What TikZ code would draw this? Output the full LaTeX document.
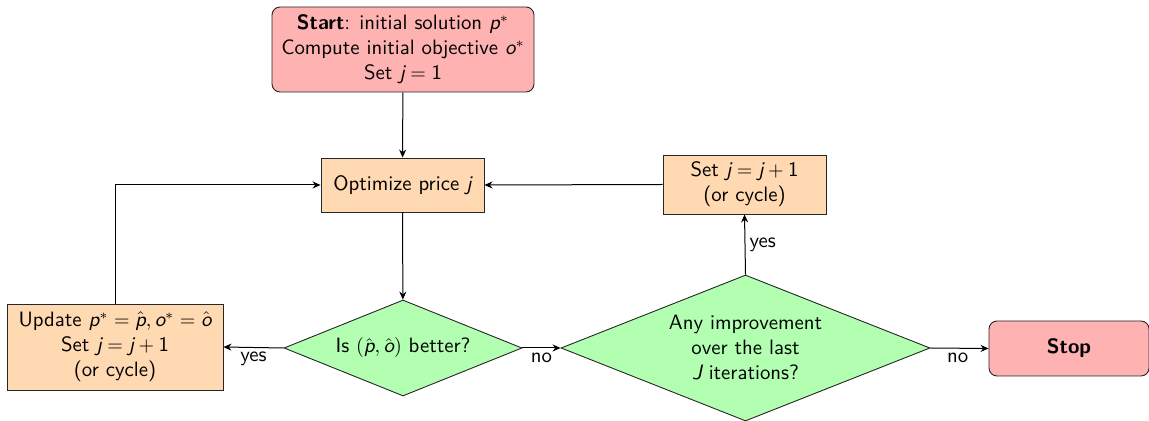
\documentclass[tikz,border=0pt]{standalone}
\renewcommand{\familydefault}{\sfdefault}
\usetikzlibrary{shapes.geometric,arrows.meta}

% sans-serif italic variables and sans digits inside formulas
\newcommand{\vi}[1]{\textsf{\itshape #1}}
\newcommand{\nm}[1]{\textsf{#1}}

\tikzset{
  txt/.style={font=\fontsize{10.4}{12.5}\selectfont},
  base/.style={draw=black!85, line width=0.45pt, align=center, inner sep=2pt, txt},
  terminal/.style={base, rounded corners=4pt, fill=red!30},
  process/.style={base, fill=orange!30},
  decision/.style={base, diamond, fill=green!30, inner sep=0pt},
  flow/.style={draw=black, line width=0.5pt, -{Stealth[length=4pt,width=3.5pt]}},
  lbl/.style={txt, inner sep=2pt}
}

\begin{document}
\begin{tikzpicture}[x=0.5pt,y=-0.5pt]
  \useasboundingbox (0,0) rectangle (1149,421);

  % nodes
  \node[terminal, minimum width=131pt, minimum height=42.5pt] (start) at (403,49.5)
    {\textbf{Start}: initial solution $\vi{p}^*$\\Compute initial objective $\vi{o}^*$\\Set $\vi{j}=\nm{1}$};
  \node[process, minimum width=81.5pt, minimum height=27pt] (opt) at (402.5,185)
    {Optimize price $\vi{j}$};
  \node[process, minimum width=81.5pt, minimum height=29.5pt] (setj) at (744.5,184.5)
    {Set $\vi{j}=\vi{j}+\nm{1}$\\(or cycle)};
  \node[process, minimum width=108pt, minimum height=43pt] (upd) at (115,347)
    {Update $\vi{p}^*=\hat{\vi{p}}, \vi{o}^*=\hat{\vi{o}}$\\Set $\vi{j}=\vi{j}+\nm{1}$\\(or cycle)};
  \node[decision, minimum width=119pt, minimum height=48pt, aspect=2.48] (better) at (403,348)
    {Is $(\hat{\vi{p}},\hat{\vi{o}})$ better?};
  \node[decision, minimum width=184.5pt, minimum height=73pt, aspect=2.53] (improve) at (745.5,348)
    {Any improvement\\over the last\\$\vi{J}$ iterations?};
  \node[terminal, minimum width=80pt, minimum height=27.5pt] (stop) at (1069,348.5)
    {\textbf{Stop}};

  % connectors
  \draw[flow] (start) -- (opt);
  \draw[flow] (opt) -- (better);
  \draw[flow] (better.west) -- node[lbl, below, pos=0.5] {yes} (upd.east);
  \draw[flow] (better.east) -- node[lbl, below, pos=0.5] {no} (improve.west);
  \draw[flow] (improve.north) -- node[lbl, right, pos=0.5] {yes} (setj.south);
  \draw[flow] (improve.east) -- node[lbl, below, pos=0.47] {no} (stop.west);
  \draw[flow] (setj.west) -- (opt.east);
  \draw[flow] (upd.north) |- (opt.west);
\end{tikzpicture}
\end{document}
